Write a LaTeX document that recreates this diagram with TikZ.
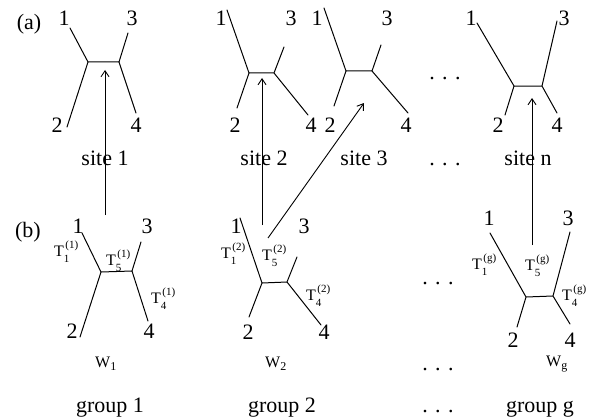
\documentclass[tikz,border=0pt]{standalone}
\usepackage{fontspec}
\setmainfont{Liberation Serif}
\usetikzlibrary{arrows.meta}
\newcommand\Tlab[2]{T\rlap{\raisebox{-6pt}{\fontsize{11}{11}\selectfont #1}}\hspace{1.5pt}\raisebox{7.5pt}{\fontsize{11}{11}\selectfont(#2)}}
\newcommand\Wlab[1]{W\raisebox{-3.5pt}{\fontsize{12}{12}\selectfont #1}}
\begin{document}
\begin{tikzpicture}[x=1pt,y=-1pt,
  br/.style={line width=1pt, line cap=round},
  arr/.style={line width=0.9pt,-{Straight Barb[length=6pt,width=8pt]}},
  num/.style={inner sep=0, anchor=base, font=\fontsize{22}{22}\selectfont},
  tl/.style={inner sep=0, anchor=base west, font=\fontsize{16}{16}\selectfont},
  wl/.style={inner sep=0, anchor=base west, font=\fontsize{16}{16}\selectfont}]
\useasboundingbox (0,0) rectangle (589,420);

% ---------- row (a) ----------
\node[num] (la) at (29,30) {(a)};

% site 1
\coordinate (s1L) at (88,62);  \coordinate (s1R) at (119,62);
\coordinate (s1e1) at (70,28); \coordinate (s1e3) at (128,33);
\coordinate (s1e2) at (67,127); \coordinate (s1e4) at (136,113);
\draw[br] (s1e1) -- (s1L) -- (s1e2) (s1e3) -- (s1R) -- (s1e4) (s1L) -- (s1R);
\node[num] (s1n1) at (64,26) {1};  \node[num] (s1n3) at (132,26) {3};
\node[num] (s1n2) at (57,132) {2}; \node[num] (s1n4) at (136,132) {4};
\node[num] (s1t) at (105,165) {site 1};

% site 2
\coordinate (s2L) at (249,73);  \coordinate (s2R) at (274,73);
\coordinate (s2e1) at (227,10); \coordinate (s2e3) at (284,47);
\coordinate (s2e2) at (237,108); \coordinate (s2e4) at (308,115);
\draw[br] (s2e1) -- (s2L) -- (s2e2) (s2e3) -- (s2R) -- (s2e4) (s2L) -- (s2R);
\node[num] (s2n1) at (221,26) {1};  \node[num] (s2n3) at (291,26) {3};
\node[num] (s2n2) at (235,132) {2}; \node[num] (s2n4) at (311,132) {4};
\node[num] (s2t) at (264,165) {site 2};

% site 3
\coordinate (s3L) at (346,71);  \coordinate (s3R) at (372,71);
\coordinate (s3e1) at (324,8); \coordinate (s3e3) at (381,45);
\coordinate (s3e2) at (334,106); \coordinate (s3e4) at (408,113);
\draw[br] (s3e1) -- (s3L) -- (s3e2) (s3e3) -- (s3R) -- (s3e4) (s3L) -- (s3R);
\node[num] (s3n1) at (317,26) {1};  \node[num] (s3n3) at (387,26) {3};
\node[num] (s3n2) at (330,132) {2}; \node[num] (s3n4) at (406,132) {4};
\node[num] (s3t) at (364,165) {site 3};

% dots
\node[num] (d1) at (445,80) {.\,\,.\,\,.};
\node[num] (d2) at (445,165) {.\,\,.\,\,.};

% site n
\coordinate (snL) at (514,86);  \coordinate (snR) at (542,86);
\coordinate (sne1) at (477,23); \coordinate (sne3) at (557,21);
\coordinate (sne2) at (505,115); \coordinate (sne4) at (557,113);
\draw[br] (sne1) -- (snL) -- (sne2) (sne3) -- (snR) -- (sne4) (snL) -- (snR);
\node[num] (snn1) at (471,26) {1};  \node[num] (snn3) at (564,26) {3};
\node[num] (snn2) at (498,132) {2}; \node[num] (snn4) at (557,132) {4};
\node[num] (snt) at (528,165) {site n};

% ---------- row (b) ----------
\node[num] (lb) at (28,237) {(b)};

% group 1
\coordinate (g1L) at (101,272);  \coordinate (g1R) at (132,271);
\coordinate (g1e1) at (82,233); \coordinate (g1e3) at (141,242);
\coordinate (g1e2) at (80,337); \coordinate (g1e4) at (148,321);
\draw[br] (g1e1) -- (g1L) -- (g1e2) (g1e3) -- (g1R) -- (g1e4) (g1L) -- (g1R);
\node[num] (g1n1) at (78,233) {1};  \node[num] (g1n3) at (147,233) {3};
\node[num] (g1n2) at (72,338) {2}; \node[num] (g1n4) at (149,338) {4};
\node[tl] (g1T1) at (54,256) {\Tlab{1}{1}};
\node[tl] (g1T5) at (106,265) {\Tlab{5}{1}};
\node[tl] (g1T4) at (151,303) {\Tlab{4}{1}};
\node[wl] (g1W) at (95,367) {\Wlab{1}};
\node[num] (g1t) at (110,412) {group 1};

% group 2
\coordinate (g2L) at (262,283);  \coordinate (g2R) at (287,282);
\coordinate (g2e1) at (240,218); \coordinate (g2e3) at (297,257);
\coordinate (g2e2) at (249,317); \coordinate (g2e4) at (321,325);
\draw[br] (g2e1) -- (g2L) -- (g2e2) (g2e3) -- (g2R) -- (g2e4) (g2L) -- (g2R);
\node[num] (g2n1) at (236,233) {1};  \node[num] (g2n3) at (304,233) {3};
\node[num] (g2n2) at (248,339) {2}; \node[num] (g2n4) at (324,339) {4};
\node[tl] (g2T1) at (221,258) {\Tlab{1}{2}};
\node[tl] (g2T5) at (262,260) {\Tlab{5}{2}};
\node[tl] (g2T4) at (306,300) {\Tlab{4}{2}};
\node[wl] (g2W) at (265,367) {\Wlab{2}};
\node[num] (g2t) at (282,412) {group 2};

% dots
\node[num] (d3) at (438,284) {.\,\,.\,\,.};
\node[num] (d4) at (438,370) {.\,\,.\,\,.};
\node[num] (d5) at (438,412) {.\,\,.\,\,.};

% group g
\coordinate (ggL) at (526,297);  \coordinate (ggR) at (553,296);
\coordinate (gge1) at (490,233); \coordinate (gge3) at (570,232);
\coordinate (gge2) at (517,327); \coordinate (gge4) at (570,324);
\draw[br] (gge1) -- (ggL) -- (gge2) (gge3) -- (ggR) -- (gge4) (ggL) -- (ggR);
\node[num] (ggn1) at (489,225) {1};  \node[num] (ggn3) at (568,225) {3};
\node[num] (ggn2) at (513,347) {2}; \node[num] (ggn4) at (570,347) {4};
\node[tl] (ggT1) at (472,269) {\Tlab{1}{g}};
\node[tl] (ggT5) at (525,270) {\Tlab{5}{g}};
\node[tl] (ggT4) at (562,300) {\Tlab{4}{g}};
\node[wl] (ggW) at (546,366) {\Wlab{g}};
\node[num] (ggt) at (540,412) {group g};

% ---------- arrows ----------
\coordinate (a1s) at (105,215); \coordinate (a1t) at (105,70);
\coordinate (a2s) at (262,225); \coordinate (a2t) at (262,78);
\coordinate (a3s) at (268,238); \coordinate (a3t) at (364,103);
\coordinate (a4s) at (532,245); \coordinate (a4t) at (532,98);
\draw[arr] (a1s) -- (a1t);
\draw[arr] (a2s) -- (a2t);
\draw[arr] (a3s) -- (a3t);
\draw[arr] (a4s) -- (a4t);
\end{tikzpicture}
\end{document}
